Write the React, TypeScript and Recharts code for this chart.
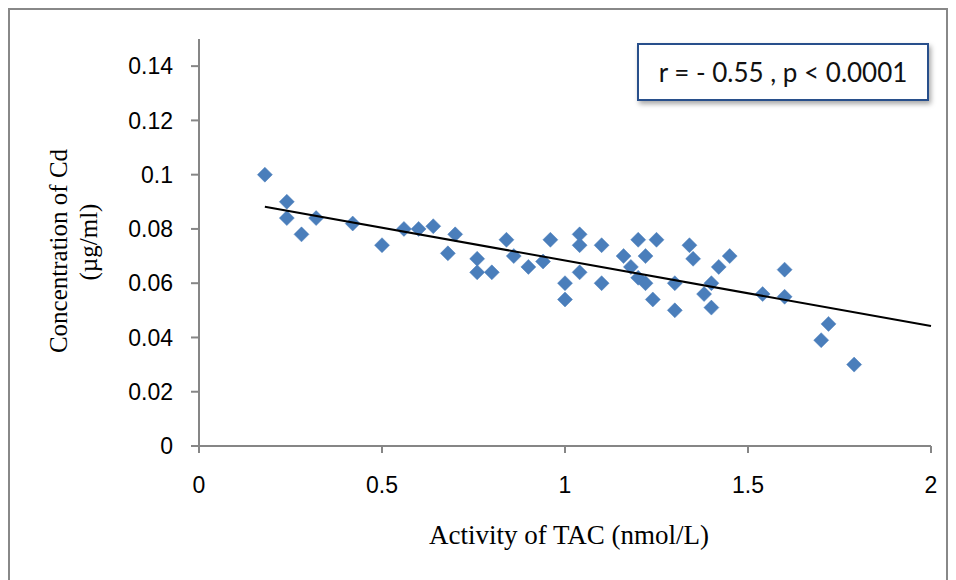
import React from "react";
import { ScatterChart, Scatter, XAxis, YAxis, ZAxis } from "recharts";

// TAC activity (nmol/L) vs Cd concentration (µg/ml), one entry per subject
const tac = [0.18, 0.24, 0.24, 0.28, 0.32, 0.42, 0.5, 0.56, 0.6, 0.64, 0.68, 0.7, 0.76, 0.76, 0.8, 0.84, 0.86, 0.9, 0.94, 0.96, 1.0, 1.0, 1.04, 1.04, 1.04, 1.1, 1.1, 1.16, 1.18, 1.2, 1.2, 1.22, 1.22, 1.24, 1.25, 1.3, 1.3, 1.34, 1.35, 1.38, 1.4, 1.4, 1.42, 1.45, 1.54, 1.6, 1.6, 1.7, 1.72, 1.79];
const cd = [0.1, 0.09, 0.084, 0.078, 0.084, 0.082, 0.074, 0.08, 0.08, 0.081, 0.071, 0.078, 0.069, 0.064, 0.064, 0.076, 0.07, 0.066, 0.068, 0.076, 0.06, 0.054, 0.078, 0.074, 0.064, 0.074, 0.06, 0.07, 0.066, 0.076, 0.062, 0.07, 0.06, 0.054, 0.076, 0.06, 0.05, 0.074, 0.069, 0.056, 0.06, 0.051, 0.066, 0.07, 0.056, 0.065, 0.055, 0.039, 0.045, 0.03];

// linear trendline end points
const trendX = [0.18, 2];
const trendY = [0.0882, 0.0442];

const xTicks = [0, 0.5, 1, 1.5, 2];
const yTicks = [0, 0.02, 0.04, 0.06, 0.08, 0.1, 0.12, 0.14];

const points = tac.map((x, i) => ({ x, y: cd[i] }));
const trend = trendX.map((x, i) => ({ x, y: trendY[i] }));

const axisColor = "#868686";
const tickFont = { fontSize: 23, fill: "#000", fontFamily: "'Liberation Sans', Arial, sans-serif" };
const serif = "'Liberation Serif', 'Times New Roman', serif";

const Diamond = (props: any) => {
  const { cx, cy } = props;
  const r = 7.5;
  return (
    <polygon
      points={`${cx},${cy - r} ${cx + r},${cy} ${cx},${cy + r} ${cx - r},${cy}`}
      fill="#4a7ebb"
      stroke="#4f81bd"
      strokeWidth={0.5}
    />
  );
};

export default function App() {
  return (
    <div style={{ position: "relative", width: 936, height: 600, border: "2px solid #888", background: "#fff" }}>
      <ScatterChart width={936} height={560} margin={{ top: 29, right: 15, left: 0, bottom: 54 }}>
        <XAxis
          type="number"
          dataKey="x"
          domain={[0, 2]}
          ticks={xTicks}
          tick={tickFont}
          tickSize={7}
          tickMargin={24}
          height={70}
          stroke={axisColor}
          strokeWidth={2}
          tickFormatter={(v) => String(v)}
        />
        <YAxis
          type="number"
          dataKey="y"
          domain={[0, 0.15]}
          ticks={yTicks}
          tick={tickFont}
          tickSize={8}
          tickMargin={18}
          width={189}
          stroke={axisColor}
          strokeWidth={2}
          tickFormatter={(v) => String(v)}
        />
        <ZAxis range={[100, 100]} />
        <Scatter data={points} shape={Diamond} isAnimationActive={false} />
        <Scatter
          data={trend}
          line={{ stroke: "#000", strokeWidth: 2 }}
          shape={() => <g />}
          isAnimationActive={false}
        />
      </ScatterChart>

      <svg width={936} height={600} style={{ position: "absolute", left: 0, top: 0, pointerEvents: "none" }}>
        <text transform="translate(57,241) rotate(-90)" textAnchor="middle" fontFamily={serif} fontSize={25}>
          Concentration of Cd
        </text>
        <text transform="translate(87,232) rotate(-90)" textAnchor="middle" fontFamily={serif} fontSize={25}>
          (µg/ml)
        </text>
        <text x={559} y={534} textAnchor="middle" fontFamily={serif} fontSize={27}>
          Activity of TAC (nmol/L)
        </text>
      </svg>

      <div
        style={{
          position: "absolute",
          left: 627,
          top: 33,
          width: 292,
          height: 58,
          boxSizing: "border-box",
          border: "2px solid #284f8b",
          boxShadow: "2px 3px 5px rgba(0,0,0,0.35)",
          background: "#fff",
          display: "flex",
          alignItems: "center",
          justifyContent: "center",
          fontFamily: "Lato, 'Open Sans', sans-serif",
          fontSize: 26,
          color: "#111",
        }}
      >
        r = - 0.55 , p &lt; 0.0001
      </div>
    </div>
  );
}
